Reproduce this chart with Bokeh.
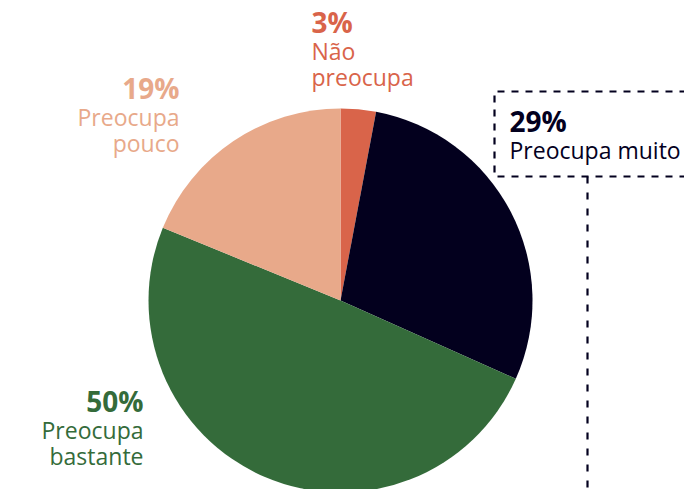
import math
from bokeh.plotting import figure
from bokeh.models import Range1d, ColumnDataSource
from bokeh.core.properties import value
from bokeh.embed import file_html
from bokeh.resources import INLINE

# ---- data ----
categories = ["Não preocupa", "Preocupa muito", "Preocupa bastante", "Preocupa pouco"]
values = [3, 29, 50, 19]
pct_labels = ["3%", "29%", "50%", "19%"]
label_lines = [["Não", "preocupa"], ["Preocupa muito"], ["Preocupa", "bastante"], ["Preocupa", "pouco"]]

# ---- styles / layout ----
colors = ["#D9644A", "#03001E", "#346B3A", "#E8A98A"]
text_colors = ["#D9644A", "#03001E", "#346B3A", "#E8A98A"]
W, H = 684, 489
FONT = "Open Sans"
BASE_FIX = -12  # correction for renderer baseline offset


def Y(sy):
    # screen y (pixels from top) -> data y
    return H - sy


p = figure(width=W, height=H, output_backend="svg", toolbar_location=None,
           x_range=Range1d(0, W), y_range=Range1d(0, H), min_border=0)
p.axis.visible = False
p.grid.visible = False
p.outline_line_color = None
p.background_fill_color = "white"
p.border_fill_color = "white"

# pie (clockwise from 12 o'clock)
total = float(sum(values))
starts, ends = [], []
cum = 0.0
for v in values:
    a0 = cum / total * 2 * math.pi
    cum += v
    a1 = cum / total * 2 * math.pi
    starts.append(math.pi / 2 - a1)
    ends.append(math.pi / 2 - a0)
src = ColumnDataSource(dict(cat=categories, val=values, start=starts, end=ends, color=colors))
p.wedge(x=340, y=Y(300), radius=192, radius_units="screen", start_angle="start", end_angle="end",
        fill_color="color", line_color=None, source=src)

# dashed callout box + leader for "Preocupa muito"
dark = "#03001E"
p.line(x=[700, 494, 494, 700], y=[Y(91), Y(91), Y(176), Y(176)], line_color=dark,
       line_width=2.2, line_dash="7 7")
p.line(x=[587, 587], y=[Y(176), Y(500)], line_color=dark, line_width=2.2, line_dash="7 9")

# labels: (x, pct baseline, align)
layout = [
    (311, 33, "left"),
    (509, 132, "left"),
    (143, 412, "right"),
    (179, 99, "right"),
]
first_gap = 29
line_gap = 26
for i, (lx, by, align) in enumerate(layout):
    p.text(x=[lx], y=[Y(by + BASE_FIX)], text=[pct_labels[i]], text_font=value(FONT),
           text_font_size="28px", text_font_style="bold", text_color=text_colors[i],
           text_align=align, text_baseline="alphabetic")
    for j, ln in enumerate(label_lines[i]):
        p.text(x=[lx], y=[Y(by + BASE_FIX + first_gap + line_gap * j)], text=[ln],
               text_font=value(FONT), text_font_size="23px", text_color=text_colors[i],
               text_align=align, text_baseline="alphabetic")

open("out.html", "w").write(file_html(p, INLINE))
